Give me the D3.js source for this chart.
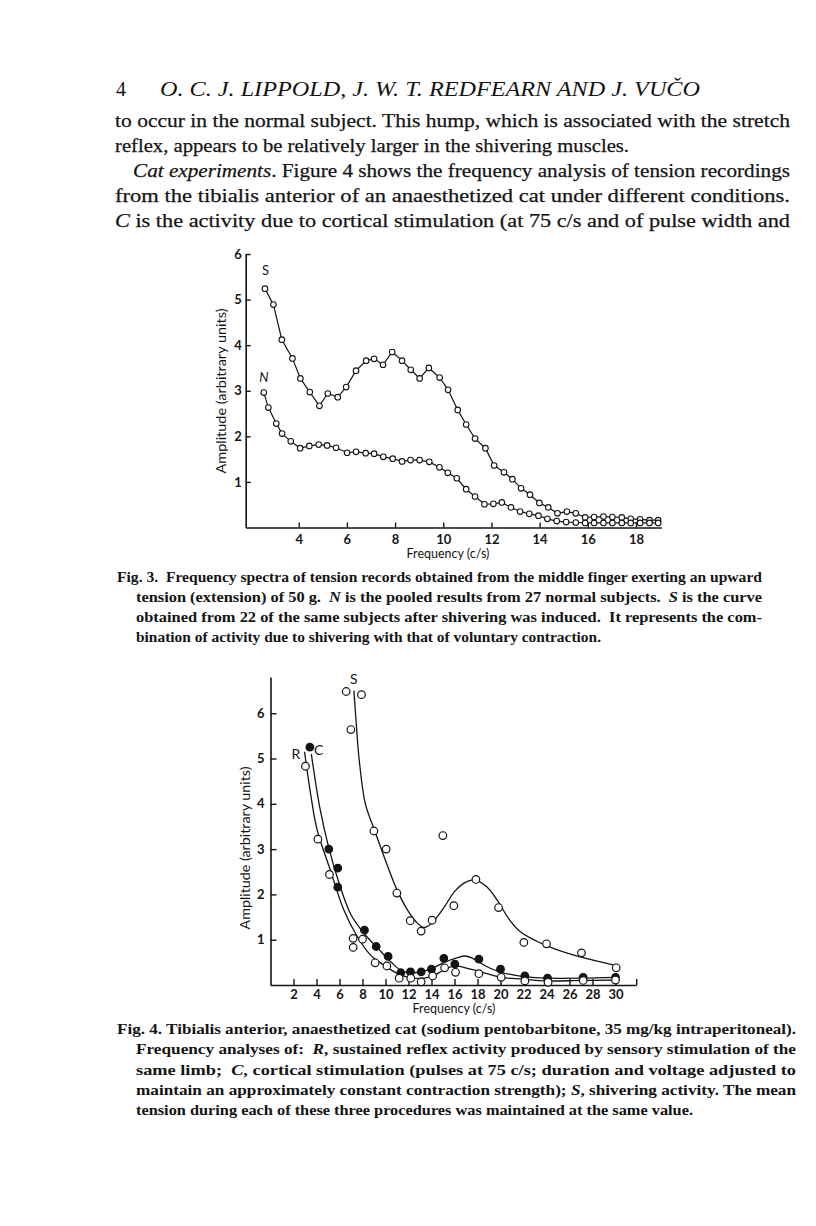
<!DOCTYPE html>
<html>
<head>
<meta charset="utf-8">
<script src="https://cdn.jsdelivr.net/npm/d3@7"></script>
<style>
  body { margin: 0; background: #fff; }
  svg { display: block; }
</style>
</head>
<body>
<script>
// ---- Fig. 3 data ----
var fig3XTicks = [4, 6, 8, 10, 12, 14, 16, 18];
var fig3YTicks = [1, 2, 3, 4, 5, 6];
var fig3SFreq = [2.60,2.95,3.30,3.74,4.07,4.46,4.86,5.21,5.62,5.97,6.38,6.80,7.13,7.50,7.88,8.29,8.65,9.02,9.40,9.85,10.20,10.60,10.95,11.32,11.75,12.11,12.52,12.87,13.23,13.60,13.99,14.36,14.74,15.13,15.50,15.89,16.26,16.65,17.02,17.41,17.78,18.17,18.56,18.92];
var fig3SAmp  = [5.24,4.89,4.12,3.71,3.27,2.97,2.67,2.94,2.86,3.08,3.44,3.66,3.70,3.57,3.85,3.66,3.46,3.27,3.50,3.29,3.02,2.58,2.26,1.95,1.74,1.36,1.21,1.06,0.86,0.72,0.54,0.44,0.31,0.35,0.31,0.22,0.23,0.24,0.23,0.22,0.19,0.18,0.16,0.16];
var fig3NFreq = [2.55,2.74,3.07,3.31,3.67,4.06,4.44,4.83,5.18,5.55,6.01,6.38,6.78,7.13,7.51,7.90,8.29,8.64,9.02,9.42,9.84,10.19,10.56,10.95,11.32,11.71,12.08,12.43,12.81,13.19,13.57,13.95,14.32,14.71,15.10,15.50,15.89,16.26,16.65,17.02,17.41,17.78,18.17,18.56,18.92];
var fig3NAmp  = [2.96,2.63,2.28,2.06,1.89,1.74,1.79,1.82,1.80,1.75,1.64,1.66,1.63,1.62,1.55,1.51,1.45,1.48,1.48,1.44,1.32,1.20,1.08,0.84,0.68,0.51,0.52,0.55,0.44,0.35,0.30,0.26,0.19,0.14,0.12,0.11,0.10,0.10,0.10,0.10,0.10,0.10,0.10,0.10,0.10];
var fig3Labels = [["S", 2.62, 5.55, false], ["N", 2.55, 3.20, true]];

// ---- Fig. 4 data ----
var fig4XTicks = [2,4,6,8,10,12,14,16,18,20,22,24,26,28,30];
var fig4YTicks = [1, 2, 3, 4, 5, 6];
var fig4SFreq = [6.58,7.91,6.99,8.99,10.06,10.99,12.15,13.10,14.05,14.99,15.94,17.86,19.83,22.03,24.0,27.04,30.06];
var fig4SAmp  = [6.48,6.41,5.64,3.40,3.00,2.03,1.42,1.19,1.43,3.30,1.75,2.33,1.71,0.94,0.91,0.71,0.38];
var fig4RFreq = [3.04,4.12,5.13,7.19,7.19,8.0,9.10,10.12,11.19,12.2,13.1,14.1,15.14,16.09,18.12,20.06,22.12,24.14,27.19,30.0];
var fig4RAmp  = [4.83,3.22,2.44,1.03,0.83,1.01,0.49,0.42,0.15,0.15,0.07,0.20,0.38,0.28,0.25,0.17,0.09,0.06,0.10,0.11];
var fig4CFreq = [3.42,5.07,5.85,5.85,8.17,9.19,10.23,11.33,12.17,13.1,14.0,15.07,16.03,18.12,20.0,22.12,24.09,27.19,30.0];
var fig4CAmp  = [5.25,3.0,2.58,2.16,1.21,0.85,0.63,0.27,0.29,0.29,0.35,0.59,0.46,0.57,0.35,0.20,0.15,0.17,0.17];
// hand-drawn fitted curves
var fig4SCurveFreq = [7.25,7.45,7.7,8.25,9.0,10.0,11.0,12.0,12.8,13.3,14.0,15.0,16.0,16.9,17.7,18.8,19.7,20.7,21.7,23.2,24.6,26.1,27.5,28.7,30.0];
var fig4SCurveAmp  = [6.5,5.8,5.0,4.0,3.45,2.75,2.1,1.62,1.36,1.27,1.36,1.68,2.06,2.26,2.32,2.17,1.88,1.47,1.18,0.96,0.81,0.68,0.58,0.51,0.43];
var fig4RCurveFreq = [2.96,3.5,4.06,5.2,6.37,7.54,8.7,9.86,11.0,12.4,13.9,15.0,16.0,17.4,18.3,20.0,22.0,24.0,27.0,30.0];
var fig4RCurveAmp  = [5.15,4.2,3.42,2.54,1.66,1.07,0.66,0.44,0.26,0.15,0.18,0.32,0.42,0.35,0.29,0.17,0.13,0.09,0.10,0.11];
var fig4CCurveFreq = [3.55,4.3,5.1,5.9,7.0,8.2,9.3,10.5,11.5,12.5,13.9,15.1,16.2,16.9,17.5,18.3,19.1,20.2,21.2,22.2,24.0,27.0,30.0];
var fig4CCurveAmp  = [5.1,3.9,3.0,2.3,1.55,1.12,0.82,0.5,0.3,0.27,0.35,0.5,0.6,0.64,0.6,0.48,0.37,0.27,0.22,0.18,0.15,0.15,0.17];
var fig4Labels = [["S", 7.25, 6.65], ["R", 2.2, 5.0], ["C", 4.2, 5.08]];

// ---- page text ----
var headerTitle = "O. C. J. LIPPOLD, J. W. T. REDFEARN AND J. VUČO";
var bodyLines = [
  [["to occur in the normal subject. This hump, which is associated with the stretch"]],
  [["reflex, appears to be relatively larger in the shivering muscles."]],
  [["Cat experiments", 1], [". Figure 4 shows the frequency analysis of tension recordings"]],
  [["from the tibialis anterior of an anaesthetized cat under different conditions."]],
  [["C", 1], [" is the activity due to cortical stimulation (at 75 c/s and of pulse width and"]]
];
var cap3Lines = [
  [["Fig. 3.  Frequency spectra of tension records obtained from the middle finger exerting an upward"]],
  [["tension (extension) of 50 g.  "], ["N", 1], [" is the pooled results from 27 normal subjects.  "], ["S", 1], [" is the curve"]],
  [["obtained from 22 of the same subjects after shivering was induced.  It represents the com-"]],
  [["bination of activity due to shivering with that of voluntary contraction."]]
];
var cap4Lines = [
  [["Fig. 4. Tibialis anterior, anaesthetized cat (sodium pentobarbitone, 35 mg/kg intraperitoneal)."]],
  [["Frequency analyses of:  "], ["R", 1], [", sustained reflex activity produced by sensory stimulation of the"]],
  [["same limb;  "], ["C", 1], [", cortical stimulation (pulses at 75 c/s; duration and voltage adjusted to"]],
  [["maintain an approximately constant contraction strength); "], ["S", 1], [", shivering activity. The mean"]],
  [["tension during each of these three procedures was maintained at the same value."]]
];

var W = 816, H = 1226;
var ink = "#141414";
var serif = "'Liberation Serif', 'DejaVu Serif', serif";
var sans = "Lato, 'Open Sans', sans-serif";

var svg = d3.select("body").append("svg").attr("width", W).attr("height", H);
svg.append("rect").attr("width", W).attr("height", H).attr("fill", "#fff");

function textLine(x, y, segs, len, size, weight) {
  var t = svg.append("text")
    .attr("x", x).attr("y", y)
    .attr("font-family", serif).attr("font-size", size)
    .attr("font-weight", weight || "normal")
    .attr("fill", ink)
    .attr("textLength", len).attr("lengthAdjust", "spacingAndGlyphs")
    .style("white-space", "pre");
  segs.forEach(function(s) {
    t.append("tspan").attr("font-style", s[1] ? "italic" : "normal").text(s[0]);
  });
  return t;
}

// header
svg.append("text").attr("x", 116).attr("y", 96).attr("font-family", serif)
  .attr("font-size", 20).attr("fill", ink).text("4");
svg.append("text").attr("x", 160).attr("y", 96).attr("font-family", serif)
  .attr("font-size", 21).attr("font-style", "italic").attr("fill", ink)
  .attr("textLength", 540).attr("lengthAdjust", "spacingAndGlyphs").text(headerTitle);

// body
var bodyX = [115, 115, 133, 115, 115];
var bodyLen = [675, 514, 657, 675, 675];
bodyLines.forEach(function(l, i) {
  textLine(bodyX[i], 127 + i * 25, l, bodyLen[i], 19.5).attr("stroke", ink).attr("stroke-width", 0.25);
});

// captions
var cap3X = [117, 136, 136, 136], cap3Len = [645, 626, 626, 465];
cap3Lines.forEach(function(l, i) {
  textLine(cap3X[i], 582 + i * 20, l, cap3Len[i], 15, "bold");
});
var cap4X = [117, 136, 136, 136, 136], cap4Len = [679, 660, 660, 660, 557];
cap4Lines.forEach(function(l, i) {
  textLine(cap4X[i], 1034 + i * 20.3, l, cap4Len[i], 15, "bold");
});

function styleAxis(g) {
  g.select(".domain").attr("stroke", ink).attr("stroke-width", 1.6);
  g.selectAll(".tick line").attr("stroke", ink).attr("stroke-width", 1.4);
  g.selectAll(".tick text").attr("fill", ink).attr("font-family", sans)
    .attr("font-size", 13).attr("font-weight", "bold");
}

function pairs(xs, ys) { return xs.map(function(d, i) { return [d, ys[i]]; }); }
var intFmt = d3.format("d");

// ---------------- Fig. 3 ----------------
var x3 = d3.scaleLinear().domain([1.8, 19.05]).range([245.7, 661.3]);
var y3 = d3.scaleLinear().domain([0, 6]).range([527.5, 254]);
var g3 = svg.append("g");

g3.append("g").attr("transform", "translate(0," + y3(0) + ")")
  .call(d3.axisBottom(x3).tickValues(fig3XTicks).tickFormat(intFmt)
    .tickSize(-5).tickSizeOuter(0).tickPadding(7))
  .call(styleAxis);
g3.append("g").attr("transform", "translate(" + x3(1.8) + ",0)")
  .call(d3.axisLeft(y3).tickValues(fig3YTicks).tickFormat(intFmt)
    .tickSize(-5).tickSizeOuter(0).tickPadding(4))
  .call(styleAxis);

g3.append("text").attr("transform", "translate(226,391) rotate(-90)")
  .attr("text-anchor", "middle").attr("font-family", sans).attr("font-size", 12.5)
  .attr("fill", ink).attr("textLength", 165).attr("lengthAdjust", "spacingAndGlyphs")
  .text("Amplitude (arbitrary units)");
g3.append("text").attr("x", 448).attr("y", 558).attr("text-anchor", "middle")
  .attr("font-family", sans).attr("font-size", 12.5).attr("fill", ink)
  .text("Frequency (c/s)");

var line3 = d3.line().x(function(d) { return x3(d[0]); }).y(function(d) { return y3(d[1]); });
[pairs(fig3SFreq, fig3SAmp), pairs(fig3NFreq, fig3NAmp)].forEach(function(s) {
  g3.append("path").datum(s).attr("d", line3).attr("fill", "none")
    .attr("stroke", ink).attr("stroke-width", 1.2);
  g3.selectAll(null).data(s).enter().append("circle")
    .attr("cx", function(d) { return x3(d[0]); })
    .attr("cy", function(d) { return y3(d[1]); })
    .attr("r", 2.8).attr("fill", "#fff").attr("stroke", ink).attr("stroke-width", 1.1);
});
g3.selectAll(null).data(fig3Labels).enter().append("text")
  .attr("x", function(d) { return x3(d[1]); })
  .attr("y", function(d) { return y3(d[2]); })
  .attr("text-anchor", "middle").attr("font-family", sans).attr("font-size", 13)
  .attr("font-style", function(d) { return d[3] ? "italic" : "normal"; })
  .attr("fill", ink).text(function(d) { return d[0]; });

// ---------------- Fig. 4 ----------------
var x4 = d3.scaleLinear().domain([0, 31.8]).range([270.5, 636.2]);
var y4 = d3.scaleLinear().domain([0, 6.8]).range([985, 677]);
var g4 = svg.append("g");

var xEnd = x4.domain()[1];
g4.append("g").attr("transform", "translate(0," + y4(0) + ")")
  .call(d3.axisBottom(x4).tickValues(fig4XTicks.concat([xEnd]))
    .tickFormat(function(d) { return d === xEnd ? "" : d; })
    .tickSize(-6).tickSizeOuter(0).tickPadding(5))
  .call(styleAxis);
g4.append("g").attr("transform", "translate(" + x4(0) + ",0)")
  .call(d3.axisLeft(y4).tickValues(fig4YTicks).tickFormat(intFmt)
    .tickSize(-6).tickSizeOuter(0).tickPadding(6))
  .call(styleAxis);

g4.append("text").attr("transform", "translate(250,848) rotate(-90)")
  .attr("text-anchor", "middle").attr("font-family", sans).attr("font-size", 12.5)
  .attr("fill", ink).attr("textLength", 163).attr("lengthAdjust", "spacingAndGlyphs")
  .text("Amplitude (arbitrary units)");
g4.append("text").attr("x", 454).attr("y", 1013).attr("text-anchor", "middle")
  .attr("font-family", sans).attr("font-size", 12.5).attr("fill", ink)
  .text("Frequency (c/s)");

var line4 = d3.line().curve(d3.curveCatmullRom.alpha(0.5))
  .x(function(d) { return x4(d[0]); }).y(function(d) { return y4(d[1]); });
[pairs(fig4SCurveFreq, fig4SCurveAmp), pairs(fig4RCurveFreq, fig4RCurveAmp), pairs(fig4CCurveFreq, fig4CCurveAmp)]
  .forEach(function(s) {
    g4.append("path").datum(s).attr("d", line4).attr("fill", "none")
      .attr("stroke", ink).attr("stroke-width", 1.3);
  });

function dots(xs, ys, filled) {
  g4.selectAll(null).data(pairs(xs, ys)).enter().append("circle")
    .attr("cx", function(d) { return x4(d[0]); })
    .attr("cy", function(d) { return y4(d[1]); })
    .attr("r", 3.8)
    .attr("fill", filled ? ink : "#fff")
    .attr("stroke", ink).attr("stroke-width", 1.2);
}
dots(fig4CFreq, fig4CAmp, true);
dots(fig4RFreq, fig4RAmp, false);
dots(fig4SFreq, fig4SAmp, false);

g4.selectAll(null).data(fig4Labels).enter().append("text")
  .attr("x", function(d) { return x4(d[1]); })
  .attr("y", function(d) { return y4(d[2]); })
  .attr("text-anchor", "middle").attr("font-family", sans).attr("font-size", 14)
  .attr("fill", ink).text(function(d) { return d[0]; });
</script>
</body>
</html>
